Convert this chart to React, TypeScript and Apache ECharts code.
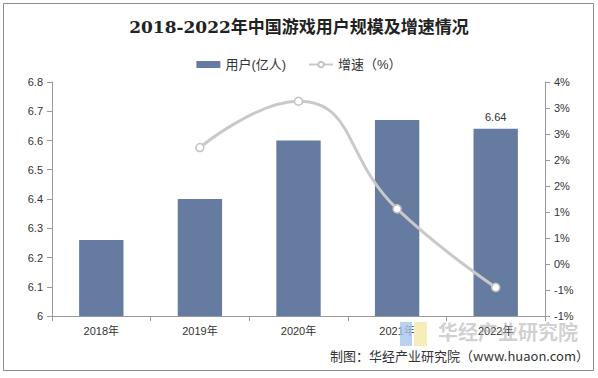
import React, { useEffect, useRef } from "react";
import * as echarts from "echarts";

const categories = ["2018年", "2019年", "2020年", "2021年", "2022年"];
const users = [6.26, 6.4, 6.6, 6.67, 6.64];
const growth = [null, 2.24, 3.13, 1.06, -0.45];
const title = "2018-2022年中国游戏用户规模及增速情况";
const footer = "制图：华经产业研究院（www.huaon.com）";

export default function App() {
  const ref = useRef<HTMLDivElement>(null);
  useEffect(() => {
    const chart = echarts.init(ref.current!, null, { renderer: "svg" });
    const font = "Liberation Sans, Arial, Noto Sans CJK SC, sans-serif";
    chart.setOption({
      animation: false,
      backgroundColor: "#fff",
      title: {
        text: title,
        left: "center",
        top: 13,
        textStyle: {
          fontFamily: "DejaVu Serif, Noto Sans CJK SC, serif",
          fontSize: 17,
          fontWeight: "bold",
          color: "#222",
        },
      },
      legend: {
        top: 53,
        left: "center",
        itemGap: 22,
        itemWidth: 24,
        itemHeight: 7,
        textStyle: { fontFamily: font, fontSize: 13, color: "#333" },
        data: [
          { name: "用户(亿人)", icon: "rect" },
          { name: "增速（%）" },
        ],
      },
      grid: { left: 52, right: 53, top: 82, bottom: 62, containLabel: false },
      xAxis: {
        type: "category",
        data: categories,
        axisLine: { onZero: false, lineStyle: { color: "#999" } },
        axisTick: { show: true, alignWithLabel: false, length: 5, lineStyle: { color: "#999" } },
        axisLabel: { fontFamily: font, fontSize: 11, color: "#333", margin: 9 },
      },
      yAxis: [
        {
          type: "value",
          min: 6,
          max: 6.8,
          interval: 0.1,
          splitLine: { show: false },
          axisLine: { show: true, onZero: false, lineStyle: { color: "#999" } },
          axisTick: { show: true, length: 5, inside: false, lineStyle: { color: "#999" } },
          axisLabel: {
            fontFamily: font,
            fontSize: 11,
            color: "#333",
            margin: 9,
            formatter: (v: number) => (Math.abs(v - 6) < 1e-6 ? "6" : v.toFixed(1)),
          },
        },
        {
          type: "value",
          min: -1,
          max: 3.5,
          interval: 0.5,
          splitLine: { show: false },
          axisLine: { show: true, onZero: false, lineStyle: { color: "#999" } },
          axisTick: { show: true, length: 5, lineStyle: { color: "#999" } },
          axisLabel: {
            fontFamily: font,
            fontSize: 11,
            color: "#333",
            margin: 9,
            formatter: (v: number) => {
              const r = Math.sign(v) * Math.round(Math.abs(v) + 1e-9);
              return (r === 0 ? 0 : r) + "%";
            },
          },
        },
      ],
      series: [
        {
          name: "用户(亿人)",
          type: "bar",
          data: users.map((v, i) =>
            i === users.length - 1
              ? { value: v, label: { show: true, position: "top", distance: 6, fontFamily: font, fontSize: 11, color: "#333", formatter: (p: any) => p.value.toFixed(2) } }
              : v
          ),
          barWidth: "45%",
          itemStyle: { color: "#667ba0" },
        },
        {
          name: "增速（%）",
          type: "line",
          yAxisIndex: 1,
          data: growth,
          smooth: 0.5,
          symbol: "circle",
          symbolSize: 8,
          itemStyle: { color: "#fff", borderColor: "#c4c4c4", borderWidth: 1.5 },
          lineStyle: { color: "#c9c9c9", width: 3 },
          z: 5,
        },
      ],
      graphic: [
        {
          type: "rect",
          shape: { x: 3.5, y: 3.5, width: 590, height: 367 },
          style: { fill: "none", stroke: "#8c8c8c", lineWidth: 1 },
          silent: true,
          z: 100,
        },
        {
          type: "rect",
          shape: { x: 400, y: 322, width: 12, height: 24 },
          style: { fill: "#a9c5ec", opacity: 0.8 },
          silent: true,
          z: 1,
        },
        {
          type: "rect",
          shape: { x: 414, y: 322, width: 13, height: 24 },
          style: { fill: "#f5e8a6", opacity: 0.8 },
          silent: true,
          z: 1,
        },
        {
          type: "text",
          x: 438,
          y: 321,
          style: {
            text: "华经产业研究院",
            fontFamily: "Noto Sans CJK SC, sans-serif",
            fontSize: 20,
            fontWeight: "bold",
            fill: "rgba(170,170,170,0.55)",
          },
          silent: true,
          z: 1,
        },
        {
          type: "text",
          right: 9,
          y: 349,
          style: {
            text: footer,
            fontFamily: "Noto Sans CJK SC, Liberation Sans, sans-serif",
            fontSize: 13,
            fill: "#333",
          },
          silent: true,
        },
      ],
    });
    return () => chart.dispose();
  }, []);
  return (
    <div
      ref={ref}
      style={{ position: "fixed", left: 0, top: 0, width: 598, height: 378 }}
    />
  );
}
